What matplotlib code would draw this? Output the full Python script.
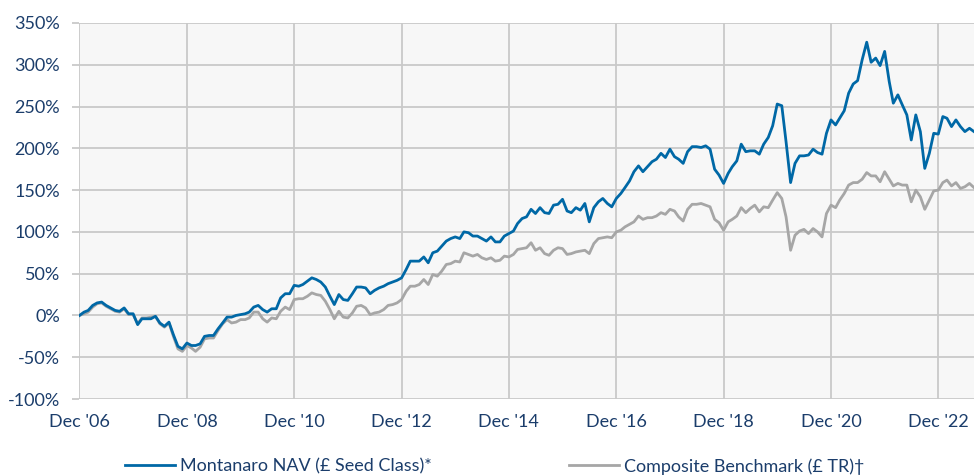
import matplotlib
matplotlib.use("Agg")
import matplotlib.pyplot as plt
import pandas as pd

# monthly cumulative returns (%), Dec 2006 -> Aug 2023
nav = [0, 4, 6, 12, 15, 16, 12, 9, 6, 5, 9, 2,
       2, -11, -4, -4, -4, -1, -9, -13, -8, -23, -37, -40,
       -33, -36, -36, -34, -25, -24, -24, -16, -9, -2, -2, 0,
       1, 2, 4, 10, 12, 7, 4, 8, 8, 21, 26, 26,
       36, 35, 37, 41, 45, 43, 40, 34, 23, 13, 25, 19,
       18, 26, 34, 34, 33, 26, 30, 33, 35, 38, 40, 42,
       45, 55, 65, 65, 65, 70, 63, 75, 77, 83, 89, 92,
       94, 92, 100, 99, 95, 95, 92, 89, 94, 88, 88, 95,
       98, 101, 110, 116, 118, 127, 122, 129, 123, 122, 132, 133,
       139, 125, 123, 129, 126, 134, 112, 129, 136, 140, 134, 130,
       140, 146, 153, 161, 172, 179, 172, 178, 184, 187, 194, 189,
       199, 190, 187, 182, 196, 202, 202, 201, 203, 199, 175, 168,
       158, 170, 178, 185, 205, 196, 197, 197, 193, 205, 213, 227,
       253, 251, 208, 159, 182, 191, 191, 192, 199, 195, 193, 218,
       234, 228, 236, 245, 266, 277, 281, 306, 327, 303, 308, 299,
       316, 280, 254, 264, 252, 240, 210, 240, 220, 176, 194, 218,
       217, 238, 236, 226, 234, 226, 220, 224, 220]

bench = [0, 2, 4, 10, 14, 15, 11, 8, 5, 4, 8, 1,
         1, -10, -3, -3, -2, -1, -10, -14, -9, -25, -40, -43,
         -36, -39, -43, -38, -28, -27, -27, -18, -10, -5, -9, -8,
         -5, -5, -3, 4, 4, -4, -8, -3, -4, 5, 10, 7,
         19, 20, 20, 23, 27, 25, 24, 17, 7, -4, 5, -2,
         -3, 3, 11, 12, 9, 1, 3, 4, 7, 12, 13, 15,
         19, 29, 35, 35, 37, 43, 37, 49, 47, 53, 61, 62,
         65, 64, 75, 73, 71, 73, 69, 67, 69, 65, 66, 71,
         70, 73, 79, 80, 81, 87, 78, 81, 74, 72, 78, 81,
         80, 73, 74, 76, 77, 78, 74, 86, 92, 93, 94, 93,
         100, 102, 106, 109, 112, 119, 115, 117, 117, 119, 123, 121,
         127, 125, 118, 113, 127, 133, 133, 134, 132, 130, 115, 111,
         102, 112, 115, 119, 129, 123, 128, 132, 124, 130, 129, 138,
         147, 140, 118, 78, 96, 101, 103, 98, 104, 100, 94, 122,
         132, 129, 138, 146, 156, 159, 159, 163, 171, 167, 167, 160,
         172, 163, 155, 158, 156, 156, 136, 150, 142, 127, 138, 149,
         150, 159, 162, 155, 159, 152, 154, 158, 153]

dates = pd.date_range("2006-12-31", periods=len(nav), freq="ME")

xtick_dates = pd.to_datetime(["2006-12-31", "2008-12-31", "2010-12-31", "2012-12-31",
                              "2014-12-31", "2016-12-31", "2018-12-31", "2020-12-31",
                              "2022-12-31"])
xtick_labels = ["Dec '06", "Dec '08", "Dec '10", "Dec '12", "Dec '14",
                "Dec '16", "Dec '18", "Dec '20", "Dec '22"]
yticks = [-100, -50, 0, 50, 100, 150, 200, 250, 300, 350]
ytick_labels = ["-100%", "-50%", "0%", "50%", "100%", "150%", "200%", "250%", "300%", "350%"]

txt = "#1b3d6b"
grid = "#c9c9c9"
plt.rcParams["font.family"] = ["Lato", "DejaVu Sans"]

fig = plt.figure(figsize=(9.74, 4.75), dpi=100)
ax = fig.add_axes([0.0816, 0.16, 0.9184, 0.7916])
ax.set_facecolor("#f7f7f7")

ax.plot(dates, nav, color="#0068a6", lw=2.0, label="Montanaro NAV (£ Seed Class)*", zorder=3)
ax.plot(dates, bench, color="#a6a6a6", lw=2.0, label="Composite Benchmark (£ TR)†", zorder=2)

ax.set_xlim(dates[0], dates[-1])
ax.set_ylim(-100, 350)
ax.set_yticks(yticks)
ax.set_yticklabels(ytick_labels)
ax.set_xticks(xtick_dates)
ax.set_xticklabels(xtick_labels)
ax.grid(True, color=grid, lw=1.3)
ax.set_axisbelow(True)
for s in ax.spines.values():
    s.set_visible(False)
ax.tick_params(axis="y", length=5, color=grid, width=1.3, pad=9, labelsize=13, labelcolor=txt)
ax.tick_params(axis="x", length=0, pad=11, labelsize=13, labelcolor=txt)

fig.legend(loc="center left", bbox_to_anchor=(0.128, 0.018), ncol=2, frameon=False,
           fontsize=13, labelcolor=txt, handlelength=2.8, handletextpad=0.25,
           columnspacing=7.6, borderpad=0, borderaxespad=0)

fig.savefig("out.png", dpi=100)
